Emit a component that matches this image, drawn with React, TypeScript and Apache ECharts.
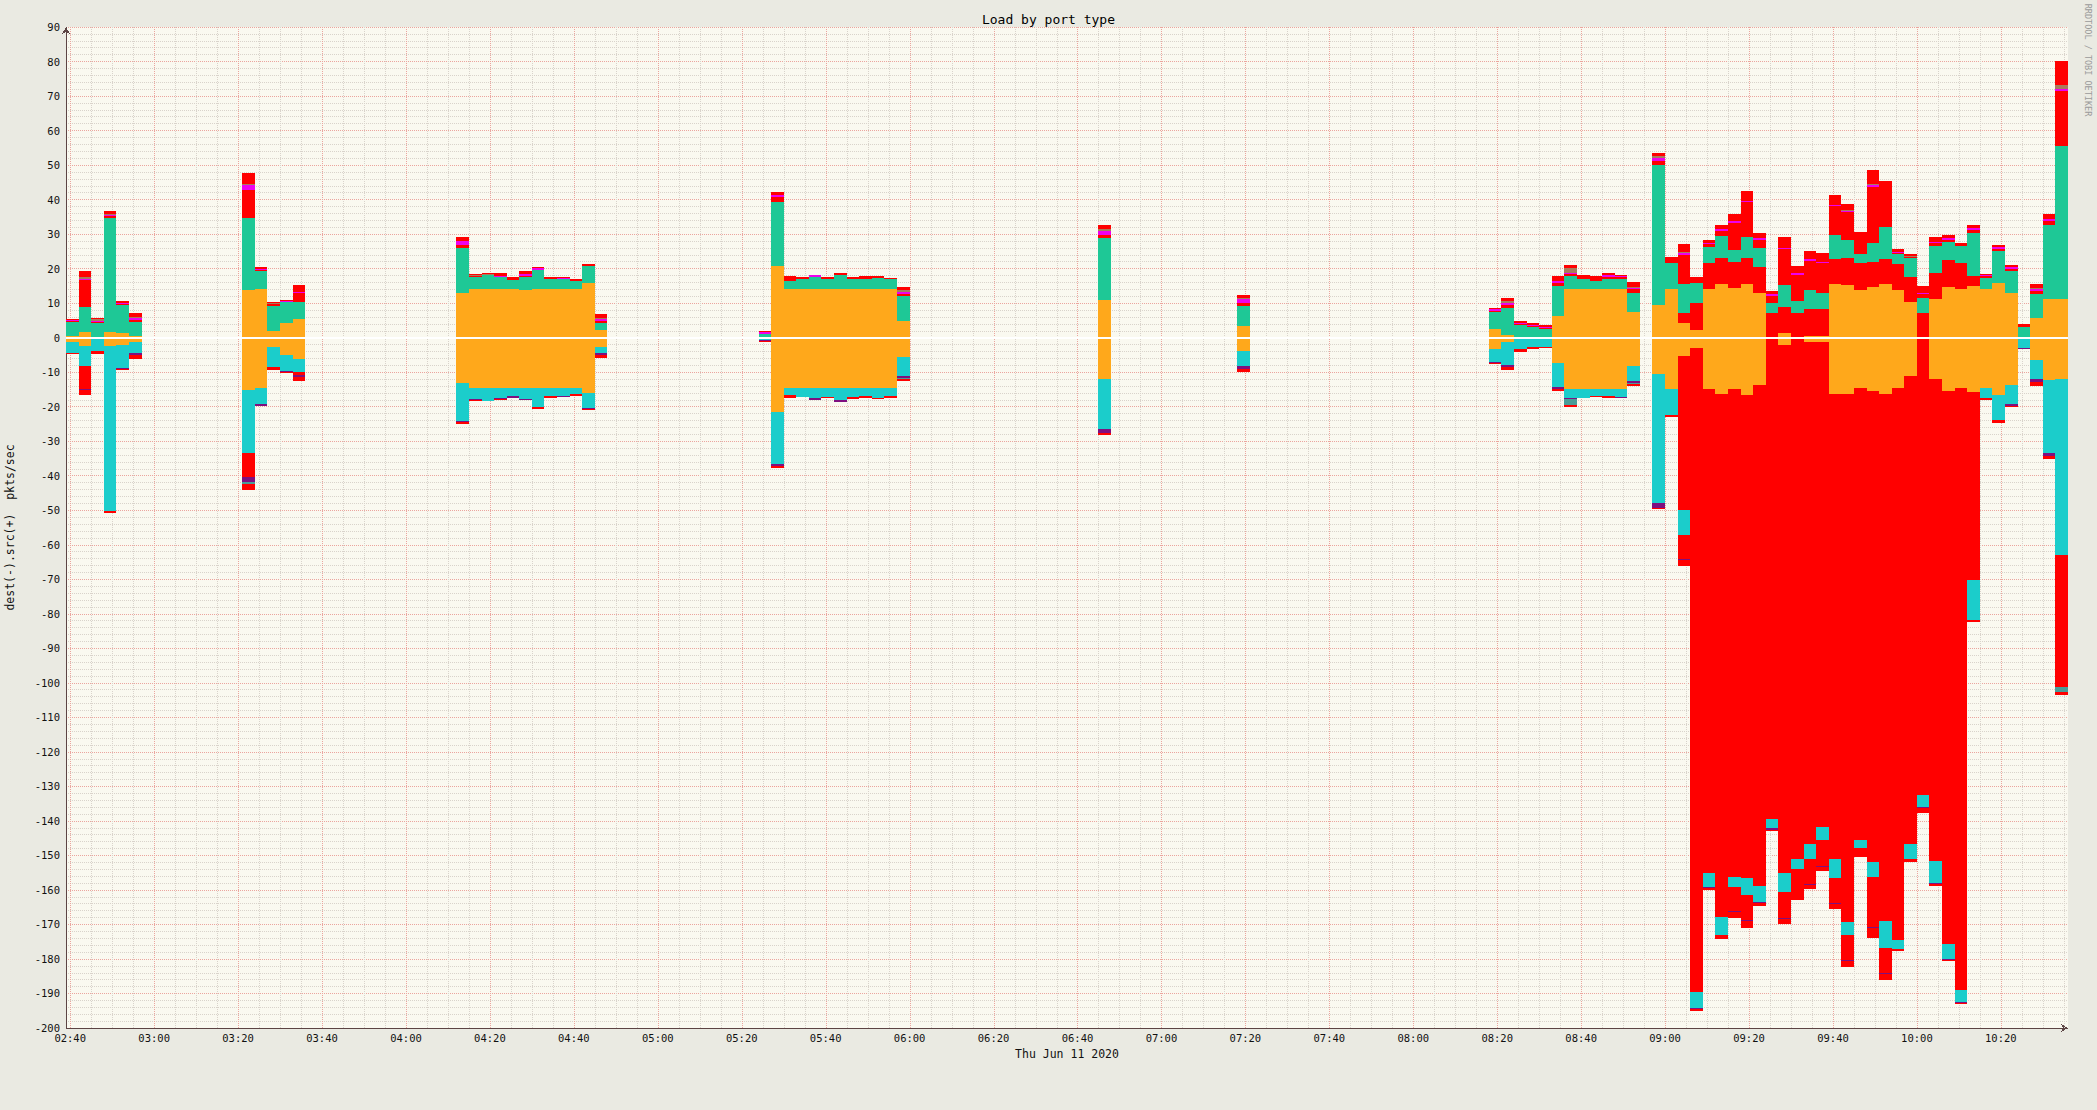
import React, { useEffect, useRef } from "react";
import * as echarts from "echarts";

// ---------- texts ----------
const TITLE = "Load by port type";
const X_AXIS_NAME = "Thu Jun 11 2020";
const Y_AXIS_NAME = "dest(-).src(+)  pkts/sec";
const CREDIT = "RRDTOOL / TOBI OETIKER";

// ---------- axes ----------
const X_START = "02:39";
const X_END = "10:36";
const STEP_MIN = 3; // one bar = 3 minutes
const X_TICK_LABELS = [
  "02:40", "03:00", "03:20", "03:40", "04:00", "04:20", "04:40", "05:00",
  "05:20", "05:40", "06:00", "06:20", "06:40", "07:00", "07:20", "07:40",
  "08:00", "08:20", "08:40", "09:00", "09:20", "09:40", "10:00", "10:20",
];
const Y_MIN = -200;
const Y_MAX = 90;
const Y_STEP = 10;

// ---------- bar start times (only bars that have data) ----------
const BAR_TIMES = [
  "02:39", "02:42", "02:45", "02:48", "02:51", "02:54",
  "03:21", "03:24", "03:27", "03:30", "03:33",
  "04:12", "04:15", "04:18", "04:21", "04:24", "04:27", "04:30", "04:33", "04:36", "04:39", "04:42", "04:45",
  "05:24", "05:27", "05:30", "05:33", "05:36", "05:39", "05:42", "05:45", "05:48", "05:51", "05:54", "05:57",
  "06:45", "07:18",
  "08:18", "08:21", "08:24", "08:27", "08:30", "08:33", "08:36", "08:39", "08:42", "08:45",
  "08:48", "08:51", "08:54", "08:57", "09:00", "09:03", "09:06", "09:09", "09:12", "09:15",
  "09:18", "09:21", "09:24", "09:27", "09:30", "09:33", "09:36", "09:39", "09:42", "09:45",
  "09:48", "09:51", "09:54", "09:57", "10:00", "10:03", "10:06", "10:09", "10:12", "10:15",
  "10:18", "10:21", "10:24", "10:27", "10:30", "10:33",
];

// ---------- src (+) layers, bottom to top ----------
const SRC_ORANGE = [
  0.59, 1.66, 0, 1.66, 1.37, 0.59,
  13.82, 14.11, 1.94, 4.26, 5.42,
  12.8, 14.11, 14.11, 14.11, 14.11, 13.82, 14.11, 14.11, 14.11, 14.11, 15.75, 2.23,
  0, 20.77, 14.11, 14.11, 14.11, 14.11, 14.11, 14.11, 14.11, 14.11, 14.11, 4.84,
  10.92, 3.39,
  2.52, 0.77, 0, 0, 0, 6.37, 14.1, 14.1, 14.1, 14.0,
  14.0, 7.55, 0, 9.48, 14.02, 4.36, 2.24, 14.02, 15.56, 14.5,
  15.56, 13.05, 0, 1.47, 0, 0.5, 0.5, 15.56, 15.37, 13.82,
  14.79, 15.56, 13.82, 10.35, 0, 11.22, 14.79, 14.11, 14.98, 14.11,
  15.85, 12.95, 0, 5.71, 11.22, 11.22,
];
const SRC_RED_A = [
  0, 0, 0, 0, 0, 0,
  0, 0, 0, 0, 0,
  0, 0, 0, 0, 0, 0, 0, 0, 0, 0, 0, 0,
  0, 0, 0, 0, 0, 0, 0, 0, 0, 0, 0, 0,
  0, 0,
  0, 0, 0, 0, 0, 0, 0, 0, 0, 0,
  0, 0, 0, 0, 0, 2.9, 7.91, 7.53, 7.44, 7.43,
  7.44, 7.44, 7.26, 7.52, 7.26, 7.82, 7.82, 7.24, 7.72, 7.73,
  7.14, 7.24, 7.54, 7.24, 7.16, 7.53, 7.72, 7.53, 2.9, 0,
  0, 0, 0, 0, 0, 0,
];
const SRC_GREEN = [
  4.06, 7.24, 4.26, 33.02, 8.11, 4.06,
  20.86, 5.21, 7.25, 6.09, 4.93,
  13.29, 3.57, 3.96, 3.38, 2.61, 3.86, 5.51, 2.8, 2.8, 2.32, 5.12, 2.13,
  1.0, 18.64, 2.41, 2.8, 3.57, 2.8, 4.05, 2.8, 2.99, 3.18, 2.8, 7.24,
  18.06, 5.79,
  5.02, 7.93, 3.68, 3.19, 2.52, 8.61, 3.77, 2.9, 2.32, 2.9,
  2.9, 5.5, 0, 40.55, 7.53, 8.3, 5.6, 4.63, 6.47, 3.48,
  6.18, 5.5, 2.89, 6.28, 3.38, 5.5, 4.73, 6.96, 5.22, 2.7,
  5.41, 9.27, 2.89, 5.41, 4.44, 7.82, 5.22, 4.93, 12.45, 3.19,
  9.27, 6.38, 3.1, 6.95, 21.43, 44.32,
];
const SRC_RED_B = [
  0.2, 7.8, 0.4, 0.5, 0.3, 0.5,
  8.11, 0.3, 0.5, 0, 2.51,
  0.77, 0.25, 0, 0.2, 0.77, 0.2, 0, 0.77, 0, 0.67, 0.58, 0.5,
  0, 1.25, 1.35, 0.58, 0, 0.77, 0.68, 0.77, 0.78, 0.58, 0.29, 0.58,
  0.87, 0.97,
  0.3, 0.77, 0.2, 0.3, 0.4, 0.8, 0.5, 1.16, 1.45, 0.8,
  0.7, 1.0, 0, 1.27, 1.83, 8.44, 1.94, 0.92, 1.53, 7.89,
  10.02, 2.41, 2.05, 10.43, 7.56, 8.48, 8.6, 8.39, 7.99, 6.37,
  16.36, 13.33, 0.3, 0.4, 1.05, 0.83, 0.67, 0.87, 0.97, 0.5,
  0.6, 0.7, 0.87, 0.94, 1.25, 16.0,
];
const SRC_MAGENTA = [
  0.35, 0.4, 0.3, 0.4, 0.3, 0.5,
  1.45, 0.3, 0, 0.35, 0.48,
  1.16, 0, 0, 0.3, 0, 0.5, 0.6, 0, 0.4, 0, 0, 0.6,
  0.5, 0.68, 0, 0, 0.48, 0, 0, 0, 0, 0, 0, 0.68,
  0.96, 0.96,
  0.4, 0.48, 0.4, 0.3, 0.3, 0.5, 0.38, 0, 0, 0.35,
  0.35, 0.35, 0, 0.7, 0, 0.4, 0, 0.4, 0.4, 0.4,
  0.4, 0.4, 0.4, 0.4, 0.4, 0.4, 0.4, 0.4, 0.35, 0,
  0.4, 0, 0.4, 0, 0.4, 0.4, 0.4, 0, 0.4, 0.35,
  0.4, 0.35, 0, 0.4, 0.4, 0.5,
];
const SRC_BROWN = [
  0, 0.4, 0.3, 0.3, 0, 0.4,
  0.3, 0, 0.3, 0, 0,
  0, 0.3, 0.3, 0, 0, 0, 0, 0, 0, 0, 0, 0.3,
  0, 0, 0, 0, 0, 0, 0, 0, 0, 0, 0, 0.4,
  0.68, 0.3,
  0, 0.68, 0, 0, 0, 0, 1.35, 0, 0, 0,
  0, 0.35, 0, 0.5, 0, 0.4, 0, 0, 0, 0,
  0, 0, 0, 0, 0, 0, 0, 0, 0.35, 0,
  0.5, 0, 0, 0.4, 0, 0, 0, 0, 0, 0,
  0, 0, 0, 0.3, 0, 1.1,
];
const SRC_RED_C = [
  0.22, 1.82, 0.45, 0.74, 0.55, 1.11,
  3.17, 0.56, 0.43, 0.22, 1.93,
  1.25, 0.13, 0.28, 0.66, 0, 0.8, 0.35, 0, 0.37, 0, 0, 1.11,
  0.47, 0.87, 0, 0, 0, 0, 0, 0, 0, 0, 0, 0.95,
  1.16, 0.96,
  0.44, 0.87, 0.55, 0.46, 0.46, 1.59, 0.97, 0, 0, 0.6,
  0.2, 1.29, 0, 0.91, 0, 2.35, 0, 0.81, 1.16, 2.14,
  2.9, 1.44, 0.84, 2.98, 2.18, 2.42, 2.49, 2.79, 1.74, 0,
  3.99, 0, 0.75, 0.45, 1.93, 1.38, 0.96, 0, 0.95, 0.31,
  0.74, 0.69, 0, 1.26, 1.54, 7.0,
];

// ---------- dest (-) layers, magnitudes, from zero downward ----------
const DST_ORANGE = [
  1.15, 2.3, 0.3, 2.3, 2.11, 1.15,
  15.15, 14.67, 2.69, 5.01, 6.17,
  13.22, 14.47, 14.47, 14.47, 14.47, 14.47, 14.47, 14.47, 14.47, 14.47, 16.11, 2.59,
  0, 21.43, 14.57, 14.57, 14.57, 14.57, 14.57, 14.57, 14.57, 14.57, 14.57, 5.59,
  12.06, 3.86,
  3.28, 1.16, 0.4, 0.4, 0.4, 7.24, 14.87, 14.87, 14.87, 14.86,
  14.86, 8.19, 0, 10.51, 14.86, 5.3, 2.98, 14.86, 16.3, 14.86,
  16.59, 13.7, 0, 2.11, 0.3, 1.16, 1.16, 16.3, 16.3, 14.57,
  15.44, 16.3, 14.57, 11.09, 0, 11.96, 15.44, 14.57, 15.73, 14.57,
  16.59, 13.7, 0, 6.45, 12.25, 11.96,
];
const DST_RED_A = [
  0, 0, 0, 0, 0, 0,
  0, 0, 0, 0, 0,
  0, 0, 0, 0, 0, 0, 0, 0, 0, 0, 0, 0,
  0, 0, 0, 0, 0, 0, 0, 0, 0, 0, 0, 0,
  0, 0,
  0, 0, 0, 0, 0, 0, 0, 0, 0, 0,
  0, 0, 0, 0, 0, 44.7, 186.52, 140.34, 151.6, 141.44,
  140.0, 145.3, 139.49, 153.1, 150.8, 145.5, 140.6, 134.8, 153.0, 130.9,
  136.6, 152.6, 159.9, 135.6, 132.51, 139.7, 160.3, 174.3, 54.5, 0,
  0, 0, 0, 0, 0, 0,
];
const DST_CYAN = [
  3.18, 5.9, 3.55, 47.9, 6.76, 3.18,
  18.15, 4.53, 5.71, 4.6, 3.76,
  10.8, 3.19, 3.86, 2.9, 2.32, 3.29, 5.5, 2.32, 2.32, 1.93, 4.15, 1.74,
  0.6, 15.16, 2.03, 2.51, 2.9, 2.51, 3.48, 2.51, 2.32, 2.8, 2.32, 5.51,
  14.39, 4.34,
  3.67, 6.9, 2.9, 2.4, 2.4, 6.95, 2.7, 2.5, 1.93, 2.02,
  2.22, 4.35, 0, 37.34, 7.54, 7.07, 4.7, 3.9, 5.3, 2.8,
  4.9, 4.5, 2.71, 5.3, 2.9, 4.4, 3.77, 5.3, 3.9, 2.4,
  4.2, 7.8, 2.6, 4.4, 3.43, 6.2, 4.3, 3.7, 11.5, 2.89,
  7.37, 5.5, 2.98, 5.51, 21.17, 51.02,
];
const DST_RED_B = [
  0, 6.7, 0.2, 0, 0, 0,
  7.15, 0, 0, 0, 0.9,
  0, 0, 0, 0, 0, 0, 0, 0, 0, 0, 0, 0,
  0, 0, 0, 0, 0, 0, 0, 0, 0, 0, 0, 0,
  0, 0,
  0, 0, 0, 0, 0, 0, 0, 0, 0, 0,
  0, 0, 0, 0, 0, 7.1, 0, 0, 0, 7.0,
  7.3, 0, 0, 7.5, 8.9, 7.2, 7.4, 7.4, 7.1, 1.9,
  14.6, 7.4, 0, 0, 0, 0, 0, 0, 0, 0,
  0, 0, 0, 0, 0, 38.2,
];
const DST_PURPLE = [
  0, 0.3, 0, 0, 0.3, 0.68,
  1.25, 0.6, 0, 0.35, 0.68,
  0.4, 0.3, 0, 0.3, 0.58, 0.28, 0, 0, 0.3, 0, 0.39, 0.58,
  0.5, 0.58, 0, 0, 0.58, 0, 0.48, 0, 0, 0, 0, 0.67,
  1.06, 0.87,
  0.5, 0.55, 0, 0, 0, 0.68, 0.3, 0, 0, 0,
  0.48, 0.6, 0, 1.5, 0, 0.25, 0.3, 0.2, 0, 0.3,
  0.3, 0.3, 0.3, 0.3, 0, 0.3, 0.3, 0.3, 0.3, 0.2,
  0.3, 0.3, 0, 0, 0.3, 0.3, 0.2, 0.2, 0.2, 0,
  0, 0.49, 0.29, 0.77, 0.95, 0,
];
const DST_SLATE = [
  0, 0, 0, 0, 0, 0,
  0.7, 0, 0, 0, 0,
  0, 0, 0, 0, 0, 0, 0, 0, 0, 0, 0, 0,
  0, 0, 0, 0, 0, 0, 0, 0, 0, 0, 0, 0.3,
  0, 0,
  0, 0, 0, 0, 0, 0, 1.64, 0, 0, 0,
  0, 0.2, 0, 0, 0, 0, 0, 0, 0, 0,
  0, 0, 0, 0, 0, 0, 0, 0, 0, 0,
  0, 0, 0, 0, 0, 0, 0, 0, 0, 0,
  0, 0, 0, 0, 0, 1.42,
];
const DST_RED_C = [
  0.49, 1.4, 0.66, 0.7, 0.2, 1.16,
  1.7, 0, 0.96, 0.36, 0.96,
  0.58, 0.37, 0.1, 0.37, 0, 0, 0.58, 0.58, 0, 0.39, 0.29, 0.87,
  0.25, 0.48, 0.87, 0.2, 0, 0.39, 0, 0.68, 0.58, 0.39, 0.58, 0.38,
  0.68, 0.77,
  0.27, 0.8, 0.8, 0.45, 0.2, 0.48, 0.68, 0.2, 0.3, 0.68,
  0, 0.78, 0, 0.35, 0.45, 1.87, 0.6, 0.8, 1.0, 1.6,
  1.9, 0.9, 0.54, 1.5, 0, 1.3, 1.4, 1.5, 1.6, 0.5,
  2.8, 1.6, 0.6, 0.7, 1.46, 0.6, 0.3, 0.4, 0.4, 0.58,
  0.9, 0.29, 0, 1.16, 0.71, 1.06,
];

// ---------- styles ----------
const MONO = "'DejaVu Sans Mono', monospace";
const C_ORANGE = "#FFA81B";
const C_GREEN = "#1EC896";
const C_CYAN = "#1BCDCB";
const C_RED = "#FF0000";
const C_MAGENTA = "#EE00EE";
const C_BROWN = "#A97B5B";
const C_PURPLE = "#7F0F80";
const C_SLATE = "#4A9C98";
const GRID_MAJOR = "#EBA59E";
const GRID_MINOR = "#D9D3CB";

const LAYERS = [
  { name: "src orange", values: SRC_ORANGE, sign: 1, color: C_ORANGE },
  { name: "src red A", values: SRC_RED_A, sign: 1, color: C_RED },
  { name: "src green", values: SRC_GREEN, sign: 1, color: C_GREEN },
  { name: "src red B", values: SRC_RED_B, sign: 1, color: C_RED },
  { name: "src magenta", values: SRC_MAGENTA, sign: 1, color: C_MAGENTA },
  { name: "src brown", values: SRC_BROWN, sign: 1, color: C_BROWN },
  { name: "src red C", values: SRC_RED_C, sign: 1, color: C_RED },
  { name: "dest orange", values: DST_ORANGE, sign: -1, color: C_ORANGE },
  { name: "dest red A", values: DST_RED_A, sign: -1, color: C_RED },
  { name: "dest cyan", values: DST_CYAN, sign: -1, color: C_CYAN },
  { name: "dest red B", values: DST_RED_B, sign: -1, color: C_RED },
  { name: "dest purple", values: DST_PURPLE, sign: -1, color: C_PURPLE },
  { name: "dest slate", values: DST_SLATE, sign: -1, color: C_SLATE },
  { name: "dest red C", values: DST_RED_C, sign: -1, color: C_RED },
];

const toMin = (s: string) => {
  const [h, m] = s.split(":").map(Number);
  return h * 60 + m;
};
const pad = (n: number) => String(n).padStart(2, "0");
const fmt = (v: number) => {
  const r = Math.round(v);
  return pad(Math.floor(r / 60)) + ":" + pad(r % 60);
};

function buildOption() {
  const xMin = toMin(X_START);
  const xMax = toMin(X_END);
  const slotCount = Math.round((xMax - xMin) / STEP_MIN);
  const slots: string[] = [];
  for (let i = 0; i < slotCount; i++) slots.push(fmt(xMin + i * STEP_MIN));
  const slotIdx = BAR_TIMES.map((t) => Math.round((toMin(t) - xMin) / STEP_MIN));

  const expand = (vals: number[], sign: number) => {
    const out: (number | null)[] = slots.map(() => null);
    vals.forEach((v, i) => {
      if (i < slotIdx.length && v) out[slotIdx[i]] = sign * v;
    });
    return out;
  };

  // grid line positions (every 5 minutes, major every 20 minutes)
  const gridLines: number[][] = [];
  for (let m = Math.ceil(xMin / 5) * 5; m < xMax; m += 5) {
    gridLines.push([m, m % 20 === 0 ? 1 : 0]);
  }
  const tickMinutes = X_TICK_LABELS.map(toMin);

  const barSeries = LAYERS.map((L, i) => {
    const s: any = {
      type: "bar",
      name: L.name,
      xAxisIndex: 0,
      yAxisIndex: 0,
      stack: "load",
      barCategoryGap: "0%",
      barGap: "0%",
      data: expand(L.values, L.sign),
      itemStyle: { color: L.color },
      silent: true,
      z: 3,
    };
    if (i === LAYERS.length - 1) {
      s.markLine = {
        silent: true,
        symbol: "none",
        label: { show: false },
        lineStyle: { color: "#FFFFFF", width: 1.5, type: "solid" },
        data: [{ yAxis: 0 }],
        z: 6,
      };
    }
    return s;
  });

  return {
    animation: false,
    backgroundColor: "#EAEAE2",
    title: {
      text: TITLE,
      left: "center",
      top: 8,
      textStyle: { fontFamily: MONO, fontSize: 13, fontWeight: "normal", color: "#000" },
    },
    grid: {
      left: 66,
      right: 29,
      top: 27,
      bottom: 82,
      outerBoundsMode: "none",
      containLabel: false,
      show: true,
      backgroundColor: "#FAF9F0",
      borderWidth: 0,
    },
    xAxis: [
      {
        type: "category",
        data: slots,
        show: false,
        boundaryGap: true,
      },
      {
        type: "value",
        min: xMin,
        max: xMax,
        position: "bottom",
        name: X_AXIS_NAME,
        nameLocation: "middle",
        nameGap: 20,
        nameTextStyle: { fontFamily: MONO, fontSize: 11.5, color: "#111" },
        axisLine: {
          show: true,
          onZero: false,
          lineStyle: { color: "#5C4444", width: 1 },
          symbol: ["none", "arrow"],
          symbolSize: [6, 7],
        },
        axisTick: { show: false, customValues: tickMinutes },
        splitLine: { show: false },
        axisLabel: {
          customValues: tickMinutes,
          formatter: (v: number) => fmt(v),
          fontFamily: MONO,
          fontSize: 10.5,
          color: "#111",
          margin: 4,
        },
      },
    ],
    yAxis: {
      type: "value",
      min: Y_MIN,
      max: Y_MAX,
      interval: Y_STEP,
      name: Y_AXIS_NAME,
      nameLocation: "middle",
      nameGap: 50,
      nameTextStyle: { fontFamily: MONO, fontSize: 11.5, color: "#111" },
      axisLine: {
        show: true,
        onZero: false,
        lineStyle: { color: "#5C4444", width: 1 },
        symbol: ["none", "arrow"],
        symbolSize: [6, 7],
      },
      axisTick: { show: false },
      axisLabel: { fontFamily: MONO, fontSize: 10.5, color: "#111", margin: 6 },
      splitLine: { show: true, lineStyle: { color: GRID_MAJOR, width: 1, type: [1, 1] } },
      minorTick: { show: false, splitNumber: 5 },
      minorSplitLine: { show: true, lineStyle: { color: GRID_MINOR, width: 1, type: [1, 1] } },
    },
    graphic: [
      {
        type: "text",
        x: 2088,
        y: 60,
        rotation: -Math.PI / 2,
        silent: true,
        style: {
          text: CREDIT,
          fill: "#9A9A9A",
          font: "8.5px 'DejaVu Sans Mono'",
          textAlign: "center",
          textVerticalAlign: "middle",
        },
      },
    ],
    series: [
      {
        type: "custom",
        name: "grid",
        xAxisIndex: 1,
        yAxisIndex: 0,
        z: 1,
        silent: true,
        data: gridLines,
        renderItem: (params: any, api: any) => {
          const x = api.value(0);
          const major = api.value(1);
          const a = api.coord([x, Y_MAX]);
          const b = api.coord([x, Y_MIN]);
          const px = Math.round(a[0]) + 0.5;
          return {
            type: "line",
            shape: { x1: px, y1: a[1], x2: px, y2: b[1] },
            style: { stroke: major ? GRID_MAJOR : GRID_MINOR, lineWidth: 1, lineDash: [1, 1] },
            z2: major ? 2 : 1,
          };
        },
      },
      ...barSeries,
    ],
  };
}

export default function App() {
  const ref = useRef<HTMLDivElement>(null);
  useEffect(() => {
    if (!ref.current) return;
    const chart = echarts.init(ref.current, null, { renderer: "svg" });
    chart.setOption(buildOption() as any);
    return () => chart.dispose();
  }, []);
  return (
    <>
      <style>{"#chart-root svg path { shape-rendering: crispEdges; }"}</style>
      <div
        id="chart-root"
        ref={ref}
        style={{ position: "absolute", left: 0, top: 0, width: 2097, height: 1110 }}
      />
    </>
  );
}
